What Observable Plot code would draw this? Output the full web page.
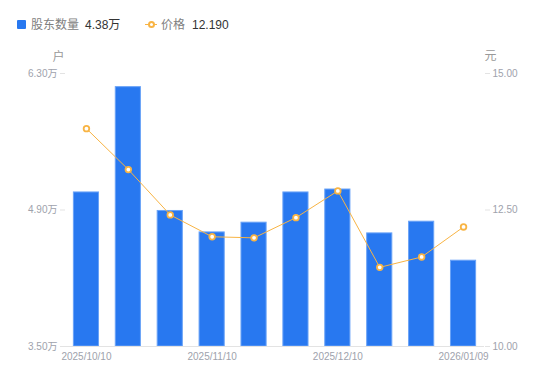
<!DOCTYPE html>
<html><head><meta charset="utf-8">
<script src="https://cdn.jsdelivr.net/npm/d3@7"></script>
<script src="https://cdn.jsdelivr.net/npm/@observablehq/plot@0.6"></script>
<style>
body{margin:0;background:#fff;font-family:"Liberation Sans","Noto Sans CJK SC",sans-serif;}
#legend{position:relative;height:45px;width:550px;font-size:12px;}
#legend span{position:absolute;top:18px;line-height:15px;white-space:nowrap;}
</style></head>
<body>
<div id="legend">
  <span style="left:17px;top:20px;width:9px;height:9px;background:#2878F0;border-radius:1px"></span>
  <span style="left:31px;color:#808080">股东数量</span>
  <span id="v1" style="left:85px;color:#333"></span>
  <span style="left:145px;top:24px;width:12px;height:1px;background:#F8B444"></span>
  <span style="left:148px;top:21px;width:3px;height:3px;border:2px solid #F8B444;border-radius:50%;background:#fff"></span>
  <span style="left:161px;color:#808080">价格</span>
  <span id="v2" style="left:192px;color:#333"></span>
</div>
<div id="chart"></div>
<script>
const dates = ["2025/10/10","2025/10/20","2025/10/31","2025/11/10","2025/11/20","2025/11/28","2025/12/10","2025/12/19","2025/12/31","2026/01/09"];
const holders = [5.08, 6.16, 4.89, 4.67, 4.77, 5.08, 5.11, 4.66, 4.78, 4.38];
const prices = [13.99, 13.24, 12.41, 12.01, 11.99, 12.36, 12.85, 11.45, 11.64, 12.19];
const leftTicks = [3.5, 4.9, 6.3];
const rightTicks = [10, 12.5, 15];
const shownDates = ["2025/10/10","2025/11/10","2025/12/10","2026/01/09"];

document.getElementById("v1").textContent = holders[holders.length-1].toFixed(2) + "万";
document.getElementById("v2").textContent = prices[prices.length-1].toFixed(3);

const yMin = 3.5, yMax = 6.3, pMin = 10, pMax = 15;
const toY = p => yMin + (p - pMin) / (pMax - pMin) * (yMax - yMin);
const toP = y => pMin + (y - yMin) / (yMax - yMin) * (pMax - pMin);

const bars = dates.map((d, i) => ({d, v: holders[i]}));
const pts = dates.map((d, i) => ({d, p: toY(prices[i])}));

const blue = "#2878F0", orange = "#F8B444", tickText = "#9ea2ac", axisCol = "#e3e3e3";

const chart = Plot.plot({
  width: 550, height: 336,
  marginLeft: 65, marginRight: 66, marginTop: 28, marginBottom: 35,
  style: {fontFamily: '"Liberation Sans","Noto Sans CJK SC",sans-serif', fontSize: "10px"},
  x: {type: "band", domain: dates, paddingInner: 0.4, paddingOuter: 0.2, round: false},
  y: {domain: [yMin, yMax]},
  marks: [
    Plot.barY(bars, {x: "d", y1: () => yMin, y2: "v", fill: blue, stroke: "#6aa3f7", strokeWidth: 1}),
    Plot.line(pts, {x: "d", y: "p", stroke: orange, strokeWidth: 1}),
    Plot.dot(pts, {x: "d", y: "p", r: 2.8, fill: "#fff", stroke: orange, strokeWidth: 1.8}),
    Plot.ruleY([yMin], {stroke: axisCol}),
    Plot.axisY({anchor: "left", ticks: leftTicks, tickFormat: d => d.toFixed(2) + "万", tickSize: 5, tickPadding: 3, line: true, stroke: axisCol, fill: tickText, label: null}),
    Plot.axisY({anchor: "right", ticks: rightTicks.map(toY), tickFormat: d => toP(d).toFixed(2), tickSize: 5, tickPadding: 3, line: true, stroke: axisCol, fill: tickText, label: null}),
    Plot.axisX({ticks: shownDates, tickSize: 0, tickPadding: 6, fill: tickText, label: null}),
    Plot.text(["户"], {frameAnchor: "top-left", textAnchor: "middle", lineAnchor: "middle", dx: -7, dy: -16, fill: "#999", fontSize: 12}),
    Plot.text(["元"], {frameAnchor: "top-right", textAnchor: "middle", lineAnchor: "middle", dx: 6, dy: -17, fill: "#999", fontSize: 12})
  ]
});
document.getElementById("chart").appendChild(chart);
</script>
</body></html>
